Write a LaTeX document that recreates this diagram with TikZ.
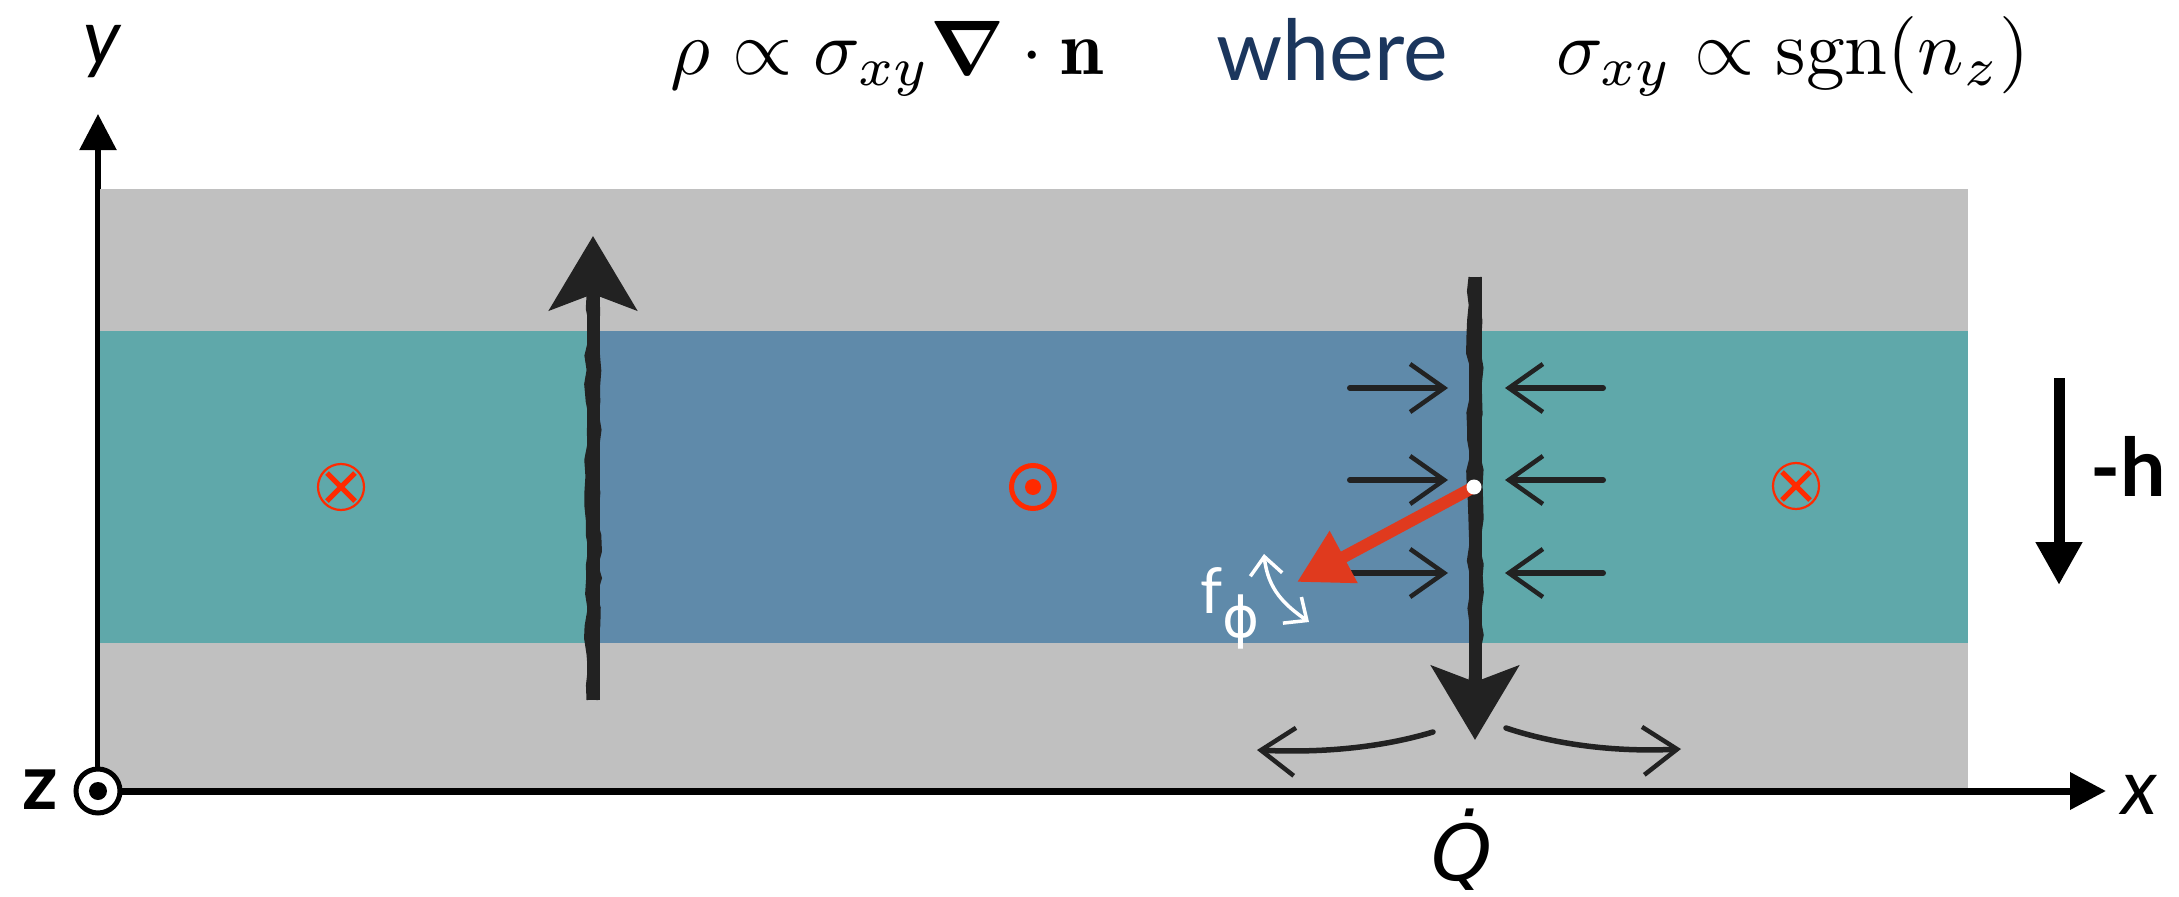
\documentclass[tikz,border=0pt]{standalone}
\usepackage{amsmath}
\usepackage{fontspec}
\newfontfamily\lato{Lato}
\newfontfamily\djv{DejaVu Sans}
\usetikzlibrary{arrows.meta,calc,decorations.pathmorphing}
\definecolor{grayband}{HTML}{C0C0C0}
\definecolor{tealband}{HTML}{5FA8AA}
\definecolor{blueband}{HTML}{5F8AAA}
\definecolor{mred}{HTML}{FF2A00}
\definecolor{ared}{HTML}{E03A1E}
\definecolor{ink}{HTML}{222222}
\definecolor{navy}{HTML}{1B365D}
\begin{document}
\begin{tikzpicture}[x=0.1mm,y=-0.1mm,
  axis/.style={draw=black,line width=0.7mm,-{Triangle[length=3.6mm,width=3.6mm]}},
  bigarrow/.style={draw=ink,line width=1.3mm,-{Stealth[length=7.4mm,width=8.7mm,inset=1.6mm]}},
  rough/.style={draw=ink,line width=0.3mm,decorate,decoration={random steps,segment length=1.5mm,amplitude=0.25mm}},
  smallarrow/.style={draw=ink,line width=0.6mm,line cap=round,-{Straight Barb[length=3.4mm,width=4.8mm,line width=0.45mm]}},
  curvearrow/.style={draw=ink,line width=0.55mm,line cap=round,-{Straight Barb[length=3.4mm,width=4.8mm,line width=0.45mm]}},
  redarrow/.style={draw=ared,line width=1.2mm,-{Triangle[length=5.3mm,width=5.6mm]}},
  whitearrow/.style={draw=white,line width=0.35mm,{Straight Barb[length=1.8mm,width=3.2mm]}-{Straight Barb[length=1.8mm,width=3.2mm]}},
  harrow/.style={draw=black,line width=1.1mm,-{Triangle[length=4.3mm,width=4.4mm]}},
  ringx/.style={circle,draw=mred,line width=0.22mm,minimum size=4.6mm,inner sep=0pt},
  ringdot/.style={circle,draw=mred,line width=0.5mm,minimum size=4.3mm,inner sep=0pt},
  crossline/.style={draw=mred,line width=0.5mm},
  axlabel/.style={font=\lato\fontsize{22}{24}\selectfont,inner sep=0pt},
  mathlabel/.style={scale=2.2,inner sep=0pt,anchor=base}]
\pgfmathsetseed{7}
\useasboundingbox (0,0) rectangle (2179,897);
% y axis (partly under the grey slab)
\coordinate (O) at (98,791);
\coordinate (Ytip) at (98,114);
\coordinate (Xtip) at (2106,791);
\draw[axis,line width=0.55mm] (O) -- (Ytip);
% slabs
\fill[grayband] (100,189) rectangle (1968,788);
\fill[tealband] (100,331) rectangle (593,643);
\fill[blueband] (593,331) rectangle (1478,643);
\fill[tealband] (1478,331) rectangle (1968,643);
% x axis
\draw[axis] (O) -- (Xtip);
\node[circle,draw=black,fill=white,line width=0.5mm,minimum size=4.4mm,inner sep=0pt] (org) at (O) {};
\fill[black] (org.center) circle (0.9mm);
% axis labels
\node[axlabel] (ylab) at (102,52) {\itshape y};
\node[axlabel] (xlab) at (2139,795) {\itshape x};
\node[axlabel] (zlab) at (40,790) {\bfseries z};
\node[axlabel,anchor=base] (qlab) at (1462,880) {\djv\itshape Q̇};
% formula
\node[mathlabel] (f1) at (887,74) {$\rho\propto\sigma_{xy}\boldsymbol{\nabla}\cdot\mathbf{n}$};
\node[anchor=base,inner sep=0pt,text=navy,font=\lato\fontsize{24}{26}\selectfont] (wh) at (1332,80) {where};
\node[mathlabel] (f2) at (1793,74) {$\sigma_{xy}\propto\mathrm{sgn}(n_z)$};
% markers
\node[ringx] (m1) at (341,487) {};
\draw[crossline] ($(m1)+(-14,-14)$) -- ($(m1)+(14,14)$);
\draw[crossline] ($(m1)+(-14,14)$) -- ($(m1)+(14,-14)$);
\node[ringdot] (m2) at (1033,487) {};
\fill[mred] (m2.center) circle (0.8mm);
\node[ringx] (m3) at (1796,486) {};
\draw[crossline] ($(m3)+(-14,-14)$) -- ($(m3)+(14,14)$);
\draw[crossline] ($(m3)+(-14,14)$) -- ($(m3)+(14,-14)$);
% big sketchy arrows
\coordinate (L1) at (593,700);
\coordinate (L2) at (593,236);
\draw[bigarrow] (L1) -- (L2);
\draw[rough] ($(L1)+(-5,0)$) -- ($(L2)+(-5,60)$);
\draw[rough] ($(L1)+(5,0)$) -- ($(L2)+(5,60)$);
\coordinate (R1) at (1475,277);
\coordinate (R2) at (1475,740);
\draw[bigarrow] (R1) -- (R2);
\draw[rough] ($(R1)+(-5,0)$) -- ($(R2)+(-5,-60)$);
\draw[rough] ($(R1)+(5,0)$) -- ($(R2)+(5,-60)$);
% small arrows
\foreach \yy [count=\i] in {388,480,573}{
  \coordinate (la\i) at (1350,\yy);
  \coordinate (lb\i) at (1448,\yy);
  \coordinate (ra\i) at (1603,\yy);
  \coordinate (rb\i) at (1505,\yy);
  \draw[smallarrow] (la\i) -- (lb\i);
  \draw[smallarrow] (ra\i) -- (rb\i);
}
% curved arrows at the bottom
\coordinate (cl1) at (1433,732);
\coordinate (cl2) at (1257,750);
\coordinate (cr1) at (1506,728);
\coordinate (cr2) at (1681,749);
\draw[curvearrow] (cl1) .. controls (1380,748) and (1320,753) .. (cl2);
\draw[curvearrow] (cr1) .. controls (1560,746) and (1620,752) .. (cr2);
% red force arrow
\coordinate (P) at (1474,487);
\coordinate (Ftip) at (1297,582);
\draw[redarrow] (P) -- (Ftip);
\node[circle,fill=white,minimum size=1.5mm,inner sep=0pt] (pd) at (P) {};
% f_phi label and rotation arrow
\node[anchor=base west,inner sep=0pt,text=white,font=\lato\fontsize{18}{20}\selectfont] (fl) at (1200,613) {f\raisebox{-0.75ex}{\djv\fontsize{16}{17}\selectfont ϕ}};
\coordinate (w1) at (1264,554);
\coordinate (w2) at (1309,622);
\draw[whitearrow] (w1) .. controls (1268,590) and (1285,605) .. (w2);
% -h arrow
\coordinate (H1) at (2059,378);
\coordinate (H2) at (2059,585);
\draw[harrow] (H1) -- (H2);
\node[anchor=base,inner sep=0pt,font=\lato\bfseries\fontsize{23}{25}\selectfont] (hlab) at (2128,496) {-h};
\end{tikzpicture}
\end{document}
